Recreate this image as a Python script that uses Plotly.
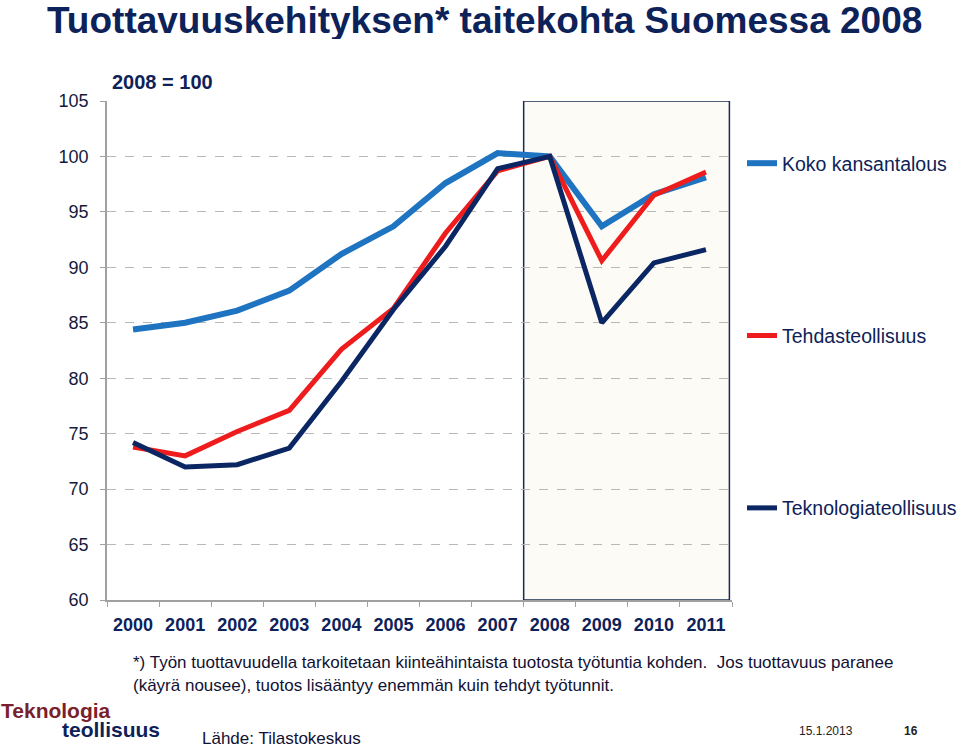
import plotly.graph_objects as go

years = ["2000", "2001", "2002", "2003", "2004", "2005", "2006", "2007", "2008", "2009", "2010", "2011"]
koko = [84.4, 85.0, 86.1, 87.9, 91.2, 93.7, 97.6, 100.3, 100.0, 93.7, 96.6, 98.1]
tehdas = [73.8, 73.0, 75.2, 77.1, 82.6, 86.3, 93.1, 98.7, 100.0, 90.6, 96.5, 98.6]
tekno = [74.2, 72.0, 72.2, 73.7, 79.7, 86.2, 91.9, 98.9, 100.0, 85.0, 90.4, 91.6]
series_names = ["Koko kansantalous", "Tehdasteollisuus", "Teknologiateollisuus"]
y_ticks = [60, 65, 70, 75, 80, 85, 90, 95, 100, 105]

W, H = 959, 747
L, R, T, B = 107, 732, 101, 600
NAVY = "#0D2259"
FONT = "Liberation Sans, Arial, sans-serif"


def px(x):
    return (x - L) / (R - L)


def py(y):
    return (B - y) / (B - T)


fig = go.Figure()
colors = ["#1F74C2", "#EE1C1C", "#0B2763"]
widths = [6, 5, 5]
for i, (name, vals) in enumerate(zip(series_names, [koko, tehdas, tekno])):
    fig.add_trace(go.Scatter(
        x=years, y=vals, mode="lines", name=name,
        line=dict(color=colors[i], width=widths[i]),
        legendgroup=name,
    ))

fig.add_shape(type="rect", xref="x", yref="y", x0=7.5, x1=11.45, y0=60, y1=105,
              fillcolor="#FDFBF6", line=dict(color="#1A2A50", width=1.5), layer="below")

annots = []
annots.append(dict(text="<b>Tuottavuuskehityksen* taitekohta Suomessa 2008</b>",
                   x=px(46), y=py(0), xanchor="left", yanchor="top", height=38, borderpad=0,
                   valign="middle",
                   font=dict(size=37, color=NAVY, family=FONT)))
annots.append(dict(text="<b>2008 = 100</b>", x=px(110), y=py(82), xanchor="left", yanchor="middle",
                   font=dict(size=20, color=NAVY, family=FONT)))
annots.append(dict(text="*) Työn tuottavuudella tarkoitetaan kiinteähintaista tuotosta työtuntia kohden.  Jos tuottavuus paranee",
                   x=px(131), y=py(662), xanchor="left", yanchor="middle",
                   font=dict(size=17, color="#111133", family=FONT)))
annots.append(dict(text="(käyrä nousee), tuotos lisääntyy enemmän kuin tehdyt työtunnit.",
                   x=px(131), y=py(685), xanchor="left", yanchor="middle",
                   font=dict(size=17, color="#111133", family=FONT)))
annots.append(dict(text="<b>Teknologia</b>", x=px(-1), y=py(710), xanchor="left", yanchor="middle",
                   font=dict(size=21, color="#7A1F2E", family=FONT)))
annots.append(dict(text="<b>teollisuus</b>", x=px(60), y=py(729), xanchor="left", yanchor="middle",
                   font=dict(size=21, color=NAVY, family=FONT)))
annots.append(dict(text="Lähde: Tilastokeskus", x=px(200), y=py(738), xanchor="left", yanchor="middle",
                   font=dict(size=17, color="#111133", family=FONT)))
annots.append(dict(text="15.1.2013", x=px(797), y=py(731), xanchor="left", yanchor="middle",
                   font=dict(size=12, color="#222222", family=FONT)))
annots.append(dict(text="<b>16</b>", x=px(902), y=py(731), xanchor="left", yanchor="middle",
                   font=dict(size=12, color="#222222", family=FONT)))
for a in annots:
    a.update(xref="paper", yref="paper", showarrow=False)

fig.update_layout(
    width=W, height=H,
    margin=dict(l=L, r=W - R, t=T, b=H - B, pad=0, autoexpand=False),
    paper_bgcolor="white", plot_bgcolor="white",
    annotations=annots,
    showlegend=True,
    legend=dict(x=px(742), y=py(144), xanchor="left", yanchor="top",
                font=dict(size=19.5, color=NAVY, family=FONT),
                tracegroupgap=144, bgcolor="rgba(0,0,0,0)", borderwidth=0,
                itemwidth=30),
    xaxis=dict(type="category", range=[-0.5, 11.5], tickson="boundaries",
               ticks="outside", ticklen=5, tickcolor="#A0A0A0",
               showline=True, linecolor="#A0A0A0", linewidth=1.5,
               showgrid=False, zeroline=False, ticklabelstandoff=8,
               tickfont=dict(size=18, color=NAVY, family=FONT),
               tickprefix="<b>", ticksuffix="</b>"),
    yaxis=dict(range=[60, 105], tickvals=y_ticks, ticks="outside", ticklen=5,
               tickcolor="#A0A0A0", showline=True, linecolor="#A0A0A0", linewidth=1.5,
               showgrid=True, gridcolor="#B8B8B8", griddash="dash", gridwidth=1,
               zeroline=False, ticklabelstandoff=8,
               tickfont=dict(size=18, color="#141B3C", family=FONT)),
)

fig.write_html("out.html", config={"displayModeBar": False},
               post_script="document.body.style.margin='0';document.body.style.overflow='hidden';")
